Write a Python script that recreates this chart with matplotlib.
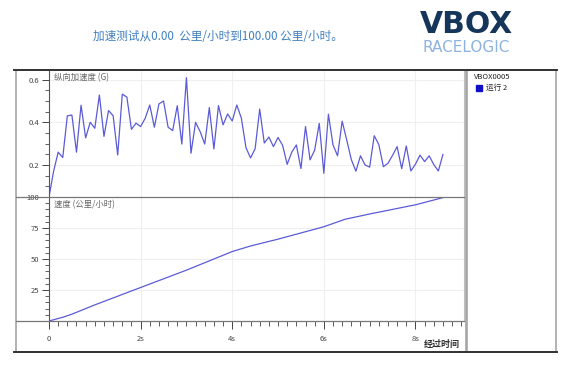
import numpy as np
import matplotlib
matplotlib.use("Agg")
import matplotlib.pyplot as plt
from matplotlib.lines import Line2D
from matplotlib.patches import Rectangle
from matplotlib.ticker import MultipleLocator

plt.rcParams['font.family'] = ['Noto Sans CJK SC', 'DejaVu Sans']

# longitudinal acceleration (G), one sample every 0.1 s
accel_g = [0.05, 0.17, 0.26, 0.235, 0.43, 0.434, 0.26, 0.48, 0.327, 0.40,
           0.372, 0.528, 0.334, 0.455, 0.431, 0.247, 0.532, 0.518, 0.367, 0.396,
           0.38, 0.419, 0.481, 0.377, 0.486, 0.50, 0.377, 0.361, 0.478, 0.298,
           0.609, 0.255, 0.40, 0.356, 0.298, 0.469, 0.275, 0.478, 0.388, 0.439,
           0.406, 0.481, 0.419, 0.281, 0.233, 0.276, 0.462, 0.303, 0.331, 0.286,
           0.329, 0.292, 0.203, 0.26, 0.294, 0.183, 0.38, 0.224, 0.27, 0.395,
           0.161, 0.438, 0.294, 0.243, 0.405, 0.317, 0.225, 0.171, 0.243, 0.2,
           0.19, 0.337, 0.296, 0.192, 0.208, 0.245, 0.286, 0.183, 0.289, 0.172,
           0.204, 0.246, 0.216, 0.243, 0.202, 0.172, 0.249]
accel_t = np.arange(len(accel_g)) * 0.1

# speed (km/h)
speed_t = [0.0, 0.3, 0.5, 1.0, 1.5, 2.0, 2.5, 3.0, 3.5, 4.0, 4.4, 5.0, 5.5,
           6.0, 6.46, 7.0, 7.5, 8.0, 8.6]
speed_kmh = [0.0, 3.0, 5.5, 13.0, 20.0, 27.0, 34.0, 41.0, 48.5, 56.0, 60.5, 66.0, 71.0,
             76.0, 82.0, 86.3, 90.0, 93.7, 99.5]

title = '加速测试从0.00  公里/小时到100.00 公里/小时。'
xticks = [0, 2, 4, 6, 8]
xlabels = ['0', '2s', '4s', '6s', '8s']

W, H = 585, 367
def fx(x):
    return x / W
def fy(y):
    return 1 - y / H

line_col = '#5b5bd8'
tick_col = '#444444'
grid_col = '#efefef'

fig = plt.figure(figsize=(5.85, 3.67), dpi=100)
fig.patch.set_facecolor('white')

# frames
fig.add_artist(Rectangle((fx(16), fy(352)), fx(466) - fx(16), fy(70) - fy(352),
                         transform=fig.transFigure, fill=False, ec='#a5a5a5', lw=1.2))
fig.add_artist(Rectangle((fx(467), fy(352)), fx(556) - fx(467), fy(70) - fy(352),
                         transform=fig.transFigure, fill=False, ec='#a5a5a5', lw=1.2))
for yy in (70, 352):
    fig.add_artist(Line2D([fx(14), fx(557)], [fy(yy), fy(yy)],
                          transform=fig.transFigure, color='#333333', lw=1.4))

left, right = fx(49), fx(464)
ax1 = fig.add_axes([left, fy(197), right - left, fy(70) - fy(197)])
ax2 = fig.add_axes([left, fy(321), right - left, fy(197) - fy(321)])

for ax in (ax1, ax2):
    ax.set_xlim(0, 9.06)
    ax.spines['top'].set_visible(False)
    ax.spines['bottom'].set_visible(False)
    ax.spines['right'].set_color('#c0c0c0')
    ax.spines['left'].set_color('#555555')
    ax.xaxis.set_major_locator(MultipleLocator(2))
    ax.grid(True, color=grid_col, lw=0.8)
    ax.set_axisbelow(True)
    ax.tick_params(axis='y', which='major', length=5, width=0.7, colors=tick_col,
                   labelsize=5.5, pad=2)
    ax.tick_params(axis='y', which='minor', length=3, width=0.6, colors=tick_col)

ax1.plot(accel_t, accel_g, color=line_col, lw=0.9)
ax1.set_ylim(0.05, 0.645)
ax1.yaxis.set_minor_locator(MultipleLocator(0.05))
ax1.set_yticks([0.2, 0.4, 0.6])
ax1.set_yticklabels(['0.2', '0.4', '0.6'])
ax1.tick_params(axis='x', which='both', length=0, labelbottom=False)
ax1.text(0.012, 0.975, '纵向加速度 (G)', transform=ax1.transAxes, fontsize=6,
         color='#666666', va='top', ha='left')

ax2.plot(speed_t, speed_kmh, color=line_col, lw=0.9)
ax2.set_ylim(0, 100)
ax2.set_yticks([25, 50, 75, 100])
ax2.yaxis.set_minor_locator(MultipleLocator(5))
ax2.set_xticks(xticks)
ax2.set_xticklabels(xlabels)
ax2.xaxis.set_minor_locator(MultipleLocator(0.2))
ax2.tick_params(axis='x', which='major', length=6, width=0.7, colors=tick_col,
                labelsize=5.5, pad=4)
ax2.tick_params(axis='x', which='minor', length=3.5, width=0.6, colors=tick_col)
ax2.text(0.012, 0.975, '速度 (公里/小时)', transform=ax2.transAxes, fontsize=6,
         color='#666666', va='top', ha='left')

# divider and zero line across panel width
for yy in (197, 321):
    fig.add_artist(Line2D([fx(16), fx(464)], [fy(yy), fy(yy)],
                          transform=fig.transFigure, color='#777777', lw=0.9))

fig.text(fx(442), fy(344), '经过时间', fontsize=6.5, fontweight='bold', color='#333333',
         ha='center', va='center')

# legend panel
fig.text(fx(474), fy(77), 'VBOX0005', fontsize=5.5, color='#222222', va='center', ha='left')
fig.add_artist(Rectangle((fx(476), fy(91)), fx(6) - fx(0), fy(0) - fy(6),
                         transform=fig.transFigure, color='#1010c8'))
fig.text(fx(486), fy(88), '运行 2', fontsize=5.5, color='#222222', va='center', ha='left')

# header
fig.text(fx(218), fy(36), title, fontsize=8.4, color='#3f7fbf', ha='center', va='center')
fig.text(fx(466), fy(33), 'VBOX', fontsize=21.5, fontweight='bold', color='#15365a',
         ha='center', va='baseline', family='DejaVu Sans')
fig.text(fx(466), fy(52), 'RACELOGIC', fontsize=11, color='#8db3e0',
         ha='center', va='baseline', family='DejaVu Sans')

fig.savefig('out.png', dpi=100)
